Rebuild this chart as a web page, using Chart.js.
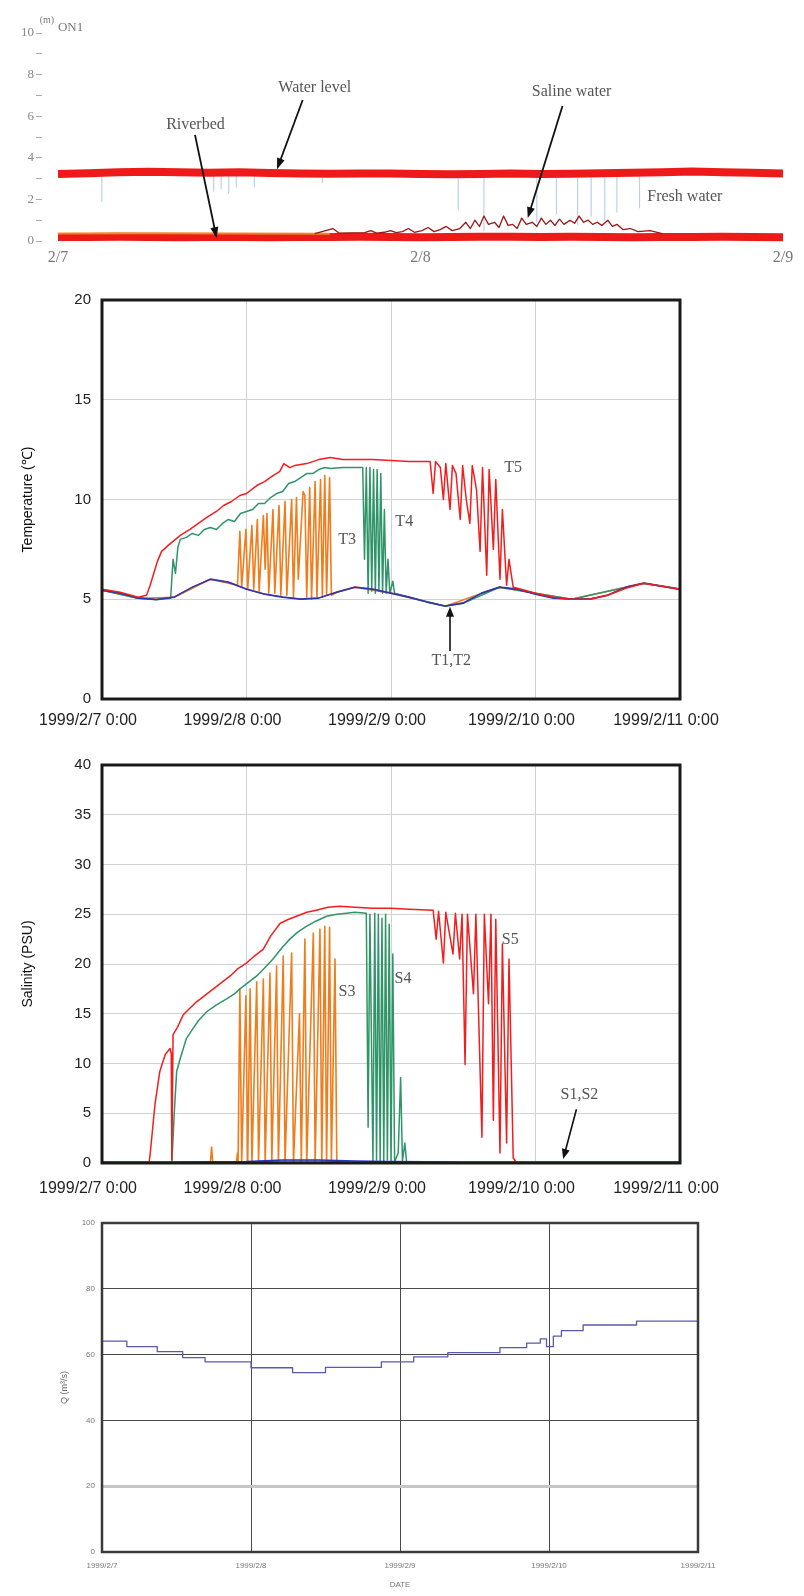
<!DOCTYPE html>
<html>
<head>
<meta charset="utf-8">
<title>Water level, temperature, salinity and discharge, 7-11 Feb 1999</title>
<script src="https://cdn.jsdelivr.net/npm/chart.js@4.4.1/dist/chart.umd.min.js"></script>
<style>
  html, body { margin: 0; padding: 0; background: #fff; }
  body { width: 804px; height: 1596px; position: relative; overflow: hidden; }
  .panel { position: absolute; left: 0; }
  .panel canvas { display: block; }
</style>
</head>
<body>
<div class="panel" style="top:0px"><canvas id="levelChart" width="804" height="270"></canvas></div>
<div class="panel" style="top:280px"><canvas id="tempChart" width="804" height="460"></canvas></div>
<div class="panel" style="top:745px"><canvas id="salChart" width="804" height="460"></canvas></div>
<div class="panel" style="top:1205px"><canvas id="flowChart" width="804" height="391"></canvas></div>

<script>
// ---------- Station ON1: water level profile (hours from 2/7 0:00) ----------
const levelDayLabels = ['2/7', '2/8', '2/9'];
const levelHours = [0,2,4,6,8,10,12,14,16,18,20,22,24,26,28,30,32,34,36,38,40,42,44,46,48];
const waterLevel = [3.22,3.26,3.31,3.33,3.31,3.28,3.30,3.27,3.25,3.23,3.25,3.24,3.22,3.21,3.22,3.24,3.22,3.23,3.26,3.28,3.31,3.34,3.31,3.28,3.25];
const riverbed   = [0.19,0.19,0.20,0.19,0.18,0.19,0.19,0.18,0.19,0.19,0.20,0.19,0.18,0.19,0.21,0.20,0.19,0.20,0.19,0.18,0.19,0.19,0.20,0.19,0.18];
const bedEdgeHours = [0, 6, 12, 18];
const bedEdge      = [0.36, 0.37, 0.36, 0.35];
const salineHours = [17,18.2,18.6,20.3,20.7,21.1,21.6,22,22.4,22.8,23.2,23.6,24.1,24.5,24.9,25.3,25.7,26.1,26.6,27,27.3,27.6,27.9,28.2,28.5,28.9,29.2,29.5,29.8,30.1,30.4,30.7,31.0,31.4,31.7,32,32.3,32.6,32.9,33.2,33.5,33.9,34.2,34.5,34.8,35.1,35.4,35.7,36,36.4,36.7,37,37.4,37.9,38.4,39.2,40];
const salineLevel = [0.35,0.6,0.38,0.4,0.5,0.38,0.42,0.5,0.4,0.45,0.6,0.42,0.5,0.65,0.45,0.55,0.7,0.5,0.6,0.9,0.6,1.0,0.7,1.2,0.8,0.9,0.65,1.2,0.75,0.8,0.6,1.1,0.8,0.9,0.7,1.1,0.8,1.0,0.75,1.05,0.8,1.0,0.85,1.2,0.9,1.0,0.8,0.9,0.75,1.0,0.7,0.8,0.55,0.6,0.45,0.5,0.35];
const freshHours = [2.9, 10.3, 10.8, 11.3, 11.8, 13.0, 17.5, 26.5, 28.2, 31.7, 33.0, 34.4, 35.3, 36.2, 37.0, 38.5];
const freshTop   = [3.15,3.15,3.15,3.15,3.15,3.15,3.15,3.15,3.15,3.15,3.15,3.15,3.15,3.15,3.15,3.15];
const freshLow   = [1.9, 2.4, 2.5, 2.3, 2.6, 2.6, 2.8, 1.5, 0.5, 0.9, 1.3, 0.8, 1.2, 1.0, 1.4, 1.6];

// ---------- Temperature profiles T1..T5 (deg C) ----------
const dayLabels = ['1999/2/7 0:00', '1999/2/8 0:00', '1999/2/9 0:00', '1999/2/10 0:00', '1999/2/11 0:00'];
const baseHours = [0,3,6,9,12,15,18,21,24,27,30,33,36,39,42,45,48,51,54,57,60,63,66,69,72,75,78,81,84,87,90,93,96];
const t1Temp = [5.45,5.3,5.05,4.98,5.1,5.6,6.0,5.85,5.5,5.25,5.1,5.0,5.05,5.35,5.6,5.5,5.3,5.1,4.85,4.65,4.8,5.3,5.6,5.5,5.25,5.05,5.0,5.0,5.2,5.6,5.8,5.65,5.5];
const t2Temp = [5.5,5.32,5.08,5.0,5.12,5.62,6.02,5.88,5.52,5.27,5.12,5.02,5.07,5.37,5.62,5.52,5.32,5.12,4.87,4.67,4.83,5.32,5.62,5.52,5.27,5.07,5.02,5.02,5.22,5.62,5.82,5.67,5.52];
const t3Hours = [0,6,12,18,22.5,22.9,23.2,23.9,24.2,24.9,25.2,25.8,26.1,26.8,27.1,27.4,27.7,28.4,28.7,29.4,29.7,30.4,30.7,31.5,31.8,32.3,32.6,33.4,33.7,34.0,34.5,34.8,35.4,35.7,36.3,36.6,37.0,37.3,37.8,38.1,39,42,48,57,66,78,90,96];
const t3Temp  = [5.45,5.05,5.1,6.0,5.7,8.4,5.6,8.5,5.5,8.7,5.5,9.0,5.4,9.2,6.5,9.3,5.3,9.5,5.3,9.7,5.2,9.9,5.2,10.0,5.1,10.1,6.0,10.4,10.2,5.1,10.6,5.0,10.9,5.1,11.0,5.1,11.2,5.2,11.1,5.2,5.35,5.6,5.3,4.65,5.6,5.0,5.8,5.5];
const t4Hours = [0,6,9,11.4,11.8,12.2,12.6,13,14,15,16,17,18,19,20,21,22,23,24,25,26,27,28,29,30,31,32,33,34,35,36,37,38,40,42,43.3,43.6,43.9,44.2,44.5,44.8,45.1,45.4,45.7,46.0,46.3,46.6,46.9,47.2,47.5,47.8,48.3,48.6,51,57,60,66,78,90,96];
const t4Temp  = [5.45,5.05,4.98,5.05,7.0,6.3,7.6,8.0,8.1,8.3,8.2,8.5,8.6,8.5,8.8,9.0,8.9,9.3,9.4,9.5,9.8,9.8,10.1,10.3,10.4,10.8,10.9,11.1,11.3,11.3,11.5,11.6,11.55,11.6,11.6,11.6,7.0,11.6,5.3,11.6,5.4,11.5,5.3,11.5,5.4,11.3,5.3,9.5,5.3,7.0,5.3,5.9,5.3,5.1,4.65,4.8,5.6,5.0,5.8,5.5];
const t5Hours = [0,3,6,7.4,8,8.5,9.2,9.9,11,11.8,13,14.6,16,17.4,19,20.2,21.5,22.9,24,25.7,27,28.4,29.5,30.2,31.2,32,34,36,37.9,40,42,45,48,51,54.5,55,55.4,56.2,56.7,57.1,57.8,58.2,58.8,59.5,59.9,60.5,61.1,61.5,62.2,62.8,63.2,63.9,64.3,65.0,65.4,66.1,66.5,67.2,67.6,68.3,69,72,75,78,81,84,87,90,93,96];
const t5Temp  = [5.5,5.35,5.1,5.2,5.7,6.2,6.9,7.4,7.7,7.9,8.2,8.5,8.8,9.1,9.4,9.7,9.9,10.2,10.3,10.7,10.9,11.2,11.4,11.8,11.6,11.7,11.8,12.0,12.1,12.0,12.0,12.0,11.95,11.9,11.9,10.3,11.9,11.6,10.0,11.8,9.5,11.7,11.3,9.0,11.7,10.0,8.8,11.7,10.5,7.4,11.6,6.2,11.5,7.5,11.0,6.0,9.5,5.7,7.0,5.6,5.55,5.3,5.1,5.0,5.0,5.2,5.55,5.8,5.65,5.5];

// ---------- Salinity profiles S1..S5 (PSU) ----------
const sBaseHours = [0,12,24,30,36,42,48,60,72,84,96];
const s1Sal = [0.1,0.1,0.15,0.3,0.3,0.2,0.15,0.1,0.1,0.1,0.1];
const s2Sal = [0.05,0.05,0.1,0.2,0.2,0.1,0.1,0.05,0.05,0.05,0.05];
const s3Hours = [0,18.0,18.2,18.4,22.3,22.5,22.6,22.9,23.2,23.9,24.2,24.6,24.9,25.7,26.0,26.8,27.1,27.9,28.2,29.0,29.3,30.1,30.4,31.5,31.8,32.8,33.1,33.7,34.0,35.1,35.4,36.2,36.5,37.0,37.3,37.8,38.1,38.7,39.0,96];
const s3Sal   = [0,0,1.6,0,0,1.0,0,17.5,0,16.8,0,17.5,0,18.2,0,18.5,0,19.1,0,19.8,0,20.8,0,21.1,0,15.0,0,22.5,0,23.1,0,23.5,0,23.8,0,23.7,0,20.5,0,0];
const s4Hours = [0,11.6,12.0,12.4,13,14,15,16,17.4,19,20.7,22,22.9,24,25.7,27,28.4,30,31.2,32.5,34,35.5,37.3,39,40.6,42,43.9,44.2,44.5,45.0,45.3,45.6,45.9,46.2,46.5,46.8,47.1,47.4,47.7,48.0,48.3,48.6,49.2,49.6,49.9,50.3,50.6,96];
const s4Sal   = [0,0,5.0,9.2,10.5,12.5,13.4,14.3,15.2,15.9,16.5,17.0,17.5,18.0,18.8,19.6,20.5,21.7,22.5,23.2,23.8,24.3,24.8,25.0,25.1,25.2,25.1,3.6,25.0,0.2,25.1,0.3,25.0,0.2,24.6,0.2,25.0,0.3,24.0,0.2,21.0,0.1,1.0,8.6,0.2,2.0,0,0];
const s5Hours = [0,7.8,8.0,8.8,9.6,10.5,11.3,11.5,11.6,11.8,12.5,13.5,14.5,15.7,17,18.5,20,21.3,22.5,24,25.3,26.8,28,29.6,31,32.3,34,35.6,37.5,39.5,42,45,48,51,55,55.5,55.9,56.7,57.1,58.3,58.7,59.4,59.8,60.3,60.7,61.7,62.1,63.1,63.5,64.2,64.6,65.0,65.4,66.1,66.5,67.2,67.6,68.3,68.9,96];
const s5Sal   = [0,0,0.9,5.9,9.2,10.9,11.5,11.0,0.3,12.9,13.6,14.9,15.5,16.2,16.8,17.5,18.2,18.8,19.5,20.1,20.8,21.5,22.8,24.1,24.5,24.8,25.2,25.4,25.7,25.8,25.7,25.6,25.6,25.5,25.4,22.5,25.3,20.1,25.2,21.0,25.1,20.5,25.0,9.9,25.0,17.0,25.0,2.6,25.0,16.0,25.0,4.3,24.5,1.0,22.0,2.0,20.5,0.5,0,0];

// ---------- River discharge Q (m3/s) ----------
const flowDayLabels = ['1999/2/7', '1999/2/8', '1999/2/9', '1999/2/10', '1999/2/11'];
const qHours = [0,4,8.9,13,16.6,24,30.7,36,45,50.2,55.7,64.1,68.4,70.6,71.6,72.7,74.0,77.5,86.1,95.2,96];
const qFlow  = [65.7,64.1,62.4,60.9,59.1,57.8,56.0,54.5,56.1,57.8,59.3,60.6,62.1,63.5,64.8,62.4,65.6,67.3,69.0,70.2,70.2];

// ---------- helpers ----------
function pts(xs, ys) { return xs.map((x, i) => ({ x: x, y: ys[i] })); }
function spikes(xs, tops, lows) {
  const out = [];
  xs.forEach((x, i) => { out.push({ x: x, y: tops[i] }, { x: x, y: lows[i] }, { x: x, y: null }); });
  return out;
}
function line(label, data, color, width, extra) {
  return Object.assign({ label: label, data: data, borderColor: color, backgroundColor: color,
    borderWidth: width, pointRadius: 0, tension: 0, fill: false, clip: false, spanGaps: false }, extra || {});
}

// Box drawn around the plotting area
function framePlugin(color, width) {
  return {
    id: 'frame',
    afterDatasetsDraw(chart) {
      const a = chart.chartArea, c = chart.ctx;
      c.save();
      c.strokeStyle = color; c.lineWidth = width;
      c.strokeRect(a.left, a.top, a.right - a.left, a.bottom - a.top);
      c.restore();
    }
  };
}

// Text notes and arrows placed in data coordinates
function notesPlugin(labels, arrows, style) {
  return {
    id: 'notes',
    afterDatasetsDraw(chart) {
      const xs = chart.scales.x, ys = chart.scales.y, c = chart.ctx;
      c.save();
      arrows.forEach(a => {
        const x1 = xs.getPixelForValue(a[0]), y1 = ys.getPixelForValue(a[1]);
        const x2 = xs.getPixelForValue(a[2]), y2 = ys.getPixelForValue(a[3]);
        const ang = Math.atan2(y2 - y1, x2 - x1), L = style.head, W = style.headW;
        c.strokeStyle = style.arrowColor; c.fillStyle = style.arrowColor; c.lineWidth = style.arrowWidth;
        c.beginPath(); c.moveTo(x1, y1);
        c.lineTo(x2 - Math.cos(ang) * L * 0.7, y2 - Math.sin(ang) * L * 0.7); c.stroke();
        c.beginPath(); c.moveTo(x2, y2);
        c.lineTo(x2 - L * Math.cos(ang) + W * Math.sin(ang), y2 - L * Math.sin(ang) - W * Math.cos(ang));
        c.lineTo(x2 - L * Math.cos(ang) - W * Math.sin(ang), y2 - L * Math.sin(ang) + W * Math.cos(ang));
        c.closePath(); c.fill();
      });
      labels.forEach(l => {
        c.font = l.font || style.font;
        c.fillStyle = l.color || style.color;
        c.textAlign = 'center'; c.textBaseline = 'middle';
        c.fillText(l.text, xs.getPixelForValue(l.x), ys.getPixelForValue(l.y));
      });
      c.restore();
    }
  };
}

const baseOptions = {
  responsive: false,
  animation: false,
  events: [],
  plugins: { legend: { display: false }, tooltip: { enabled: false } },
  elements: { point: { radius: 0 }, line: { borderJoinStyle: 'round' } }
};

// ---------- Panel 1: water level at ON1 ----------
new Chart(document.getElementById('levelChart'), {
  type: 'line',
  data: { datasets: [
    line('Saline water', pts(salineHours, salineLevel), '#9c1616', 1.3),
    line('Riverbed edge', pts(bedEdgeHours, bedEdge), '#ef8a22', 2),
    line('Riverbed', pts(levelHours, riverbed), '#ee1a1a', 8),
    line('Water level', pts(levelHours, waterLevel), '#ee1a1a', 8),
    line('Fresh water', spikes(freshHours, freshTop, freshLow), '#bcd0ee', 1.2)
  ]},
  options: Object.assign({}, baseOptions, {
    layout: { padding: { top: 33, right: 21, left: 0, bottom: 0 } },
    scales: {
      x: {
        type: 'linear', min: -1.06, max: 48,
        afterBuildTicks: s => { s.ticks = [0, 24, 48].map(v => ({ value: v })); },
        ticks: { callback: v => levelDayLabels[Math.round(v / 24)], font: { family: 'Liberation Serif', size: 16 },
                 color: '#777', padding: -1, maxRotation: 0, autoSkip: false },
        grid: { display: false }, border: { display: false },
        afterFit: s => { s.height = 29; }
      },
      y: {
        min: 0, max: 10,
        ticks: { stepSize: 1, callback: v => (v % 2 === 0 ? String(v) : ''), font: { family: 'Liberation Serif', size: 13 },
                 color: '#888', padding: 2 },
        grid: { drawOnChartArea: false, drawTicks: true, tickLength: 6, color: '#aaa' },
        border: { display: false },
        afterFit: s => { s.width = 42; }
      }
    }
  }),
  plugins: [notesPlugin(
    [
      { text: '(m)', x: -0.73, y: 10.6, font: '10px "Liberation Serif"', color: '#777' },
      { text: 'ON1', x: 0.83, y: 10.25, font: '13px "Liberation Serif"', color: '#777' },
      { text: 'Water level', x: 17.0, y: 7.36 },
      { text: 'Riverbed', x: 9.1, y: 5.58 },
      { text: 'Saline water', x: 34.0, y: 7.16 },
      { text: 'Fresh water', x: 41.5, y: 2.12 }
    ],
    [[16.2, 6.78, 14.5, 3.45], [9.07, 5.1, 10.5, 0.14], [33.4, 6.49, 31.1, 1.1]],
    { font: '16px "Liberation Serif"', color: '#555', arrowColor: '#111', arrowWidth: 1.8, head: 11, headW: 4 }
  )]
});

// ---------- Panels 2 and 3: temperature and salinity ----------
function profileOptions(yMax, yTitle, padTop, xHeight, labelPad) {
  return Object.assign({}, baseOptions, {
    layout: { padding: { top: padTop, right: 124, left: 0, bottom: 0 } },
    scales: {
      x: {
        type: 'linear', min: 0, max: 96,
        ticks: { stepSize: 24, callback: v => dayLabels[Math.round(v / 24)], font: { family: 'Liberation Sans', size: 16 },
                 color: '#222', padding: labelPad, labelOffset: -14, maxRotation: 0, autoSkip: false },
        grid: { color: '#d2d2d2', lineWidth: 1, drawTicks: false },
        border: { display: false },
        afterFit: s => { s.height = xHeight; }
      },
      y: {
        min: 0, max: yMax,
        ticks: { stepSize: 5, font: { family: 'Liberation Sans', size: 15 }, color: '#222', padding: 11 },
        grid: { color: '#d2d2d2', lineWidth: 1, drawTicks: false },
        border: { display: false },
        title: { display: true, text: yTitle, font: { family: 'Liberation Sans', size: 14 }, color: '#111',
                 padding: { top: 20, bottom: 0 } },
        afterFit: s => { s.width = 102; }
      }
    }
  });
}
const noteStyle = { font: '16px "Liberation Serif"', color: '#555', arrowColor: '#111', arrowWidth: 1.6, head: 10, headW: 4 };

new Chart(document.getElementById('tempChart'), {
  type: 'line',
  data: { datasets: [
    line('T5', pts(t5Hours, t5Temp), '#f21e1e', 1.5),
    line('T1', pts(baseHours, t1Temp), '#2536bb', 1.3),
    line('T2', pts(baseHours, t2Temp), '#7a3a78', 1.1),
    line('T4', pts(t4Hours, t4Temp), '#2f9468', 1.5),
    line('T3', pts(t3Hours, t3Temp), '#f07c1c', 1.6)
  ]},
  options: profileOptions(20, 'Temperature (\u2103)', 15, 41, 12),
  plugins: [framePlugin('#1a1a1a', 3), notesPlugin(
    [
      { text: 'T3', x: 40.7, y: 8.0 },
      { text: 'T4', x: 50.2, y: 8.86 },
      { text: 'T5', x: 68.3, y: 11.6 },
      { text: 'T1,T2', x: 58.0, y: 1.93 }
    ],
    [[57.8, 2.4, 57.8, 4.62]],
    noteStyle
  )]
});

new Chart(document.getElementById('salChart'), {
  type: 'line',
  data: { datasets: [
    line('S5', pts(s5Hours, s5Sal), '#f21e1e', 1.5),
    line('S1', pts(sBaseHours, s1Sal), '#2536bb', 1.3),
    line('S2', pts(sBaseHours, s2Sal), '#7a3a78', 1.1),
    line('S4', pts(s4Hours, s4Sal), '#2f9468', 1.5),
    line('S3', pts(s3Hours, s3Sal), '#f07c1c', 1.6)
  ]},
  options: profileOptions(40, 'Salinity (PSU)', 15, 42, 16),
  plugins: [framePlugin('#1a1a1a', 3), notesPlugin(
    [
      { text: 'S3', x: 40.7, y: 17.2 },
      { text: 'S4', x: 50.0, y: 18.5 },
      { text: 'S5', x: 67.8, y: 22.4 },
      { text: 'S1,S2', x: 79.3, y: 6.9 }
    ],
    [[78.8, 5.4, 76.6, 0.4]],
    noteStyle
  )]
});

// ---------- Panel 4: discharge ----------
new Chart(document.getElementById('flowChart'), {
  type: 'line',
  data: { datasets: [
    line('Q', pts(qHours, qFlow), '#5a5aaa', 1.3, { stepped: 'after' })
  ]},
  options: Object.assign({}, baseOptions, {
    layout: { padding: { top: 18, right: 106, left: 0, bottom: 0 } },
    scales: {
      x: {
        type: 'linear', min: 0, max: 96,
        ticks: { stepSize: 24, callback: v => flowDayLabels[Math.round(v / 24)], font: { family: 'Liberation Sans', size: 8 },
                 color: '#777', padding: 9, maxRotation: 0, autoSkip: false },
        grid: { color: '#4a4a4a', lineWidth: 1, drawTicks: false },
        border: { display: false },
        title: { display: true, text: 'DATE', font: { family: 'Liberation Sans', size: 8 }, color: '#777',
                 padding: { top: 0, bottom: 6 } },
        afterFit: s => { s.height = 44; }
      },
      y: {
        min: 0, max: 100,
        ticks: { stepSize: 20, font: { family: 'Liberation Sans', size: 8 }, color: '#777', padding: 7 },
        grid: {
          color: ctx => (ctx.tick && ctx.tick.value === 20 ? '#c6c6c6' : '#4a4a4a'),
          lineWidth: ctx => (ctx.tick && ctx.tick.value === 20 ? 3 : 1),
          drawTicks: false
        },
        border: { display: false },
        title: { display: true, text: 'Q (m\u00B3/s)', font: { family: 'Liberation Sans', size: 9 }, color: '#666',
                 padding: { top: 59, bottom: 0 } },
        afterFit: s => { s.width = 102; }
      }
    }
  }),
  plugins: [framePlugin('#3a3a3a', 2.5)]
});
</script>
</body>
</html>
